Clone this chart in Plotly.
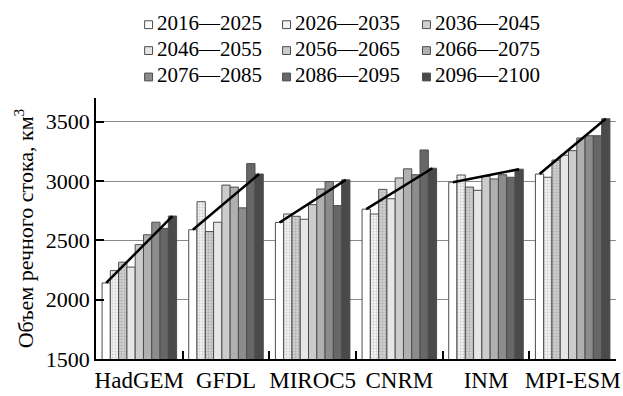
import plotly.graph_objects as go

# Climate models (x categories) and ten-year periods (bar series)
models = ["HadGEM", "GFDL", "MIROC5", "CNRM", "INM", "MPI-ESM"]
periods = ["2016—2025", "2026—2035", "2036—2045",
           "2046—2055", "2056—2065", "2066—2075",
           "2076—2085", "2086—2095", "2096—2100"]

# River runoff volume, km^3: one list per period, ordered as `models`
runoff_2016_2025 = [2141, 2590, 2651, 2763, 2990, 3059]
runoff_2026_2035 = [2245, 2826, 2722, 2722, 3051, 3032]
runoff_2036_2045 = [2316, 2574, 2703, 2930, 2949, 3177]
runoff_2046_2055 = [2275, 2653, 2678, 2851, 2922, 3218]
runoff_2056_2065 = [2464, 2966, 2801, 3026, 3040, 3256]
runoff_2066_2075 = [2547, 2949, 2933, 3103, 3018, 3363]
runoff_2076_2085 = [2653, 2774, 2996, 3053, 3053, 3382]
runoff_2086_2095 = [2601, 3147, 2793, 3262, 3032, 3382]
runoff_2096_2100 = [2705, 3059, 3010, 3108, 3100, 3525]

series = [runoff_2016_2025, runoff_2026_2035, runoff_2036_2045,
          runoff_2046_2055, runoff_2056_2065, runoff_2066_2075,
          runoff_2076_2085, runoff_2086_2095, runoff_2096_2100]

fills = ["#ffffff", "#f2f2f2", "#cfcfcf", "#e6e6e6", "#cccccc",
         "#b0b0b0", "#8c8c8c", "#676767", "#4a4a4a"]
dots = [None, "#a8a8a8", "#8e8e8e", None, None, None, None, None, None]
edge = "#4d4d4d"

FONT = "Liberation Serif"
BARGAP = 0.14
W, H = 623, 396
ML, MR, MT, MB = 96, 3, 98, 31
PW, PH = W - ML - MR, H - MT - MB

fig = go.Figure()

for name, vals, col, dot in zip(periods, series, fills, dots):
    marker = dict(color=col, line=dict(color=edge, width=1))
    if dot:
        marker["pattern"] = dict(shape=".", bgcolor=col, fgcolor=dot,
                                 size=3, solidity=0.35)
    fig.add_trace(go.Bar(x=models, y=vals, name=name, marker=marker,
                         showlegend=False))

# Straight line from the first to the last period of each model
n = len(series)
bw = (1 - BARGAP) / n
for k, m in enumerate(models):
    x0 = k - (1 - BARGAP) / 2 + bw / 2
    x1 = k + (1 - BARGAP) / 2 - bw / 2
    fig.add_trace(go.Scatter(
        x=[x0, x1], y=[series[0][k], series[-1][k]],
        xaxis="x2", mode="lines", line=dict(color="black", width=2.5),
        showlegend=False, hoverinfo="skip"))


def px_x(px):
    return (px - ML) / PW


def px_y(py):
    return (MT + PH - py) / PH


# Three-column legend above the plot
col_sym = [145, 284, 425]
col_txt = [155, 295, 436]
row_txt = [21, 47.5, 74.5]
shapes, annotations = [], []
for i, name in enumerate(periods):
    r, c = divmod(i, 3)
    cy = row_txt[r] + 2
    shapes.append(dict(type="rect", xref="paper", yref="paper",
                       x0=px_x(col_sym[c]), x1=px_x(col_sym[c] + 8),
                       y0=px_y(cy - 4), y1=px_y(cy + 4),
                       fillcolor=fills[i], line=dict(color=edge, width=1)))
    annotations.append(dict(text=name, xref="paper", yref="paper",
                            x=px_x(col_txt[c]), y=px_y(row_txt[r]),
                            xanchor="left", yanchor="middle", showarrow=False,
                            font=dict(family=FONT, size=21, color="black")))

fig.update_layout(
    width=W, height=H,
    margin=dict(l=ML, r=MR, t=MT, b=MB),
    paper_bgcolor="white", plot_bgcolor="white",
    barmode="group", bargap=BARGAP, bargroupgap=0,
    font=dict(family=FONT, size=22, color="black"),
    shapes=shapes, annotations=annotations,
    xaxis=dict(type="category", range=[-0.5, 5.5], tickangle=0,
               tickson="boundaries", ticks="inside", ticklen=8,
               tickwidth=1.5, tickcolor="black",
               showline=True, linecolor="black", linewidth=1.5,
               showgrid=False, tickfont=dict(family=FONT, size=23)),
    xaxis2=dict(overlaying="x", range=[-0.5, 5.5], visible=False),
    yaxis=dict(range=[1500, 3700], tickvals=[1500, 2000, 2500, 3000, 3500],
               ticks="inside", ticklen=8, tickwidth=1.5, tickcolor="black",
               showline=True, linecolor="black", linewidth=1.5,
               showgrid=True, gridcolor="#8a8a8a", gridwidth=1.3,
               zeroline=False, tickfont=dict(family=FONT, size=22),
               title=dict(text="Объем речного стока, км<sup>3</sup>",
                          font=dict(family=FONT, size=22), standoff=6)),
)

fig.write_html("out.html")
